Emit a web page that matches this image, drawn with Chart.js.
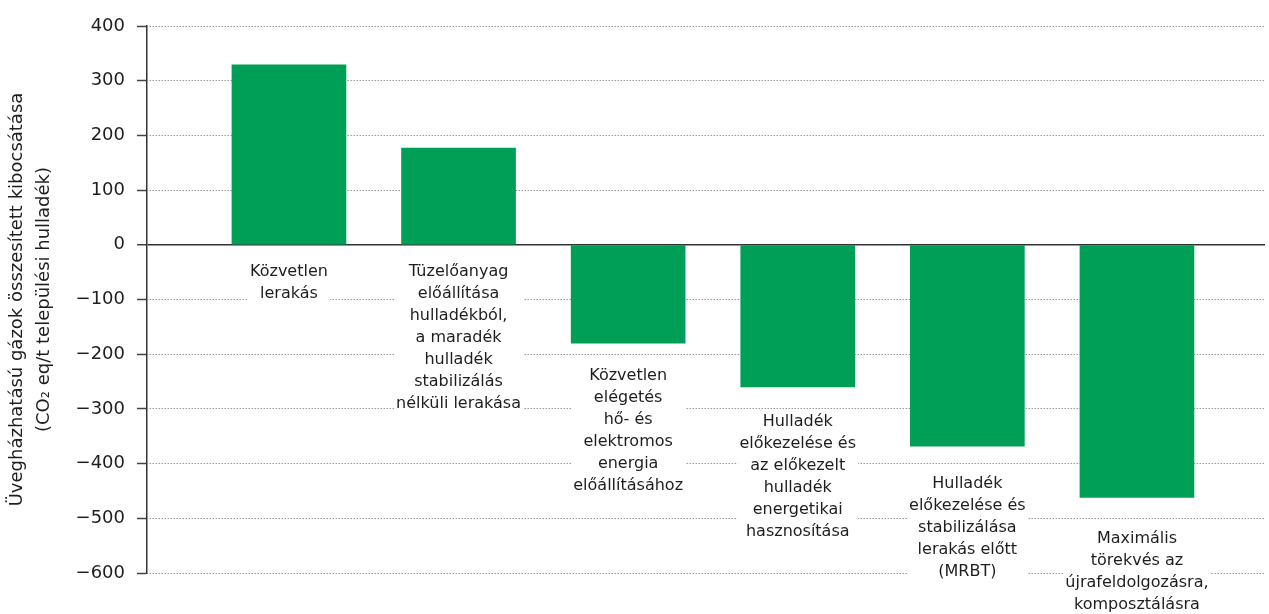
<!DOCTYPE html>
<html>
<head>
<meta charset="utf-8">
<script src="https://cdn.jsdelivr.net/npm/chart.js@4"></script>
<style>
  html, body { margin: 0; padding: 0; background: #fff; }
  #wrap { width: 1269px; height: 614px; }
</style>
</head>
<body>
<div id="wrap"><canvas id="grafico"></canvas></div>
<script>
// adatok
const kategoriak = [
  ['Közvetlen', 'lerakás'],
  ['Tüzelőanyag', 'előállítása', 'hulladékból,', 'a maradék', 'hulladék', 'stabilizálás', 'nélküli lerakása'],
  ['Közvetlen', 'elégetés', 'hő- és', 'elektromos', 'energia', 'előállításához'],
  ['Hulladék', 'előkezelése és', 'az előkezelt', 'hulladék', 'energetikai', 'hasznosítása'],
  ['Hulladék', 'előkezelése és', 'stabilizálása', 'lerakás előtt', '(MRBT)'],
  ['Maximális', 'törekvés az', 'újrafeldolgozásra,', 'komposztálásra']
];
const kibocsatas = [329, 177, -180, -260, -368, -462];
const yTicks = [400, 300, 200, 100, 0, -100, -200, -300, -400, -500, -600];
const yCim = ['Üvegházhatású gázok összesített kibocsátása', '(CO₂ eq/t települési hulladék)'];

const zold = '#009f58';
const szoveg = '#1e1e1e';

// kategória feliratok a rudak alatt
const feliratok = {
  id: 'feliratok',
  afterDatasetsDraw(chart) {
    const ctx = chart.ctx;
    const y = chart.scales.y;
    const meta = chart.getDatasetMeta(0);
    const sorMag = 22;
    ctx.save();
    ctx.font = '16px "DejaVu Sans"';
    ctx.textAlign = 'center';
    ctx.textBaseline = 'middle';
    meta.data.forEach((bar, i) => {
      const v = kibocsatas[i];
      const alap = v >= 0 ? y.getPixelForValue(0) : bar.y;
      const kezd = alap + 27 + Math.abs(Math.min(v, 0)) * 0.03;
      const sorok = kategoriak[i];
      const w = Math.max(...sorok.map(s => ctx.measureText(s).width)) + 4;
      ctx.fillStyle = '#fff';
      ctx.fillRect(bar.x - w / 2, kezd - sorMag / 2, w, sorok.length * sorMag);
      ctx.fillStyle = szoveg;
      sorok.forEach((s, j) => ctx.fillText(s, bar.x, kezd + j * sorMag));
    });
    ctx.restore();
  }
};

new Chart(document.getElementById('grafico'), {
  type: 'bar',
  data: {
    datasets: [{
      data: kibocsatas.map((v, i) => ({ x: i + 1, y: v })),
      backgroundColor: zold,
      borderWidth: 0,
      barThickness: 114
    }]
  },
  options: {
    responsive: true,
    maintainAspectRatio: false,
    animation: false,
    layout: { padding: { top: 26, right: 4, bottom: 41, left: 0 } },
    plugins: { legend: { display: false }, tooltip: { enabled: false } },
    scales: {
      x: {
        type: 'linear',
        display: false,
        offset: false,
        min: 0.163,
        max: 6.755
      },
      y: {
        min: -600,
        max: 400,
        afterBuildTicks: s => { s.ticks = yTicks.map(v => ({ value: v })); },
        afterFit: s => { s.width = 147; },
        ticks: {
          color: szoveg,
          padding: 12,
          font: { family: 'DejaVu Sans', size: 18 },
          callback: v => v < 0 ? '−' + Math.abs(v) : String(v)
        },
        grid: {
          color: c => c.tick && c.tick.value === 0 ? '#333' : '#999',
          lineWidth: c => c.tick && c.tick.value === 0 ? 1.5 : 1,
          tickColor: '#444',
          tickLength: 10,
          tickWidth: 1.5,
          tickBorderDash: []
        },
        border: {
          color: '#333',
          width: 1.5,
          dash: c => c.type === 'tick' && c.tick.value !== 0 ? [1.5, 1.5] : [],
          dashOffset: -5
        },
        title: {
          display: true,
          text: yCim,
          color: szoveg,
          font: { family: 'DejaVu Sans', size: 18, lineHeight: 1.5 },
          padding: { top: 4, bottom: 0 }
        }
      }
    }
  },
  plugins: [feliratok]
});
</script>
</body>
</html>
